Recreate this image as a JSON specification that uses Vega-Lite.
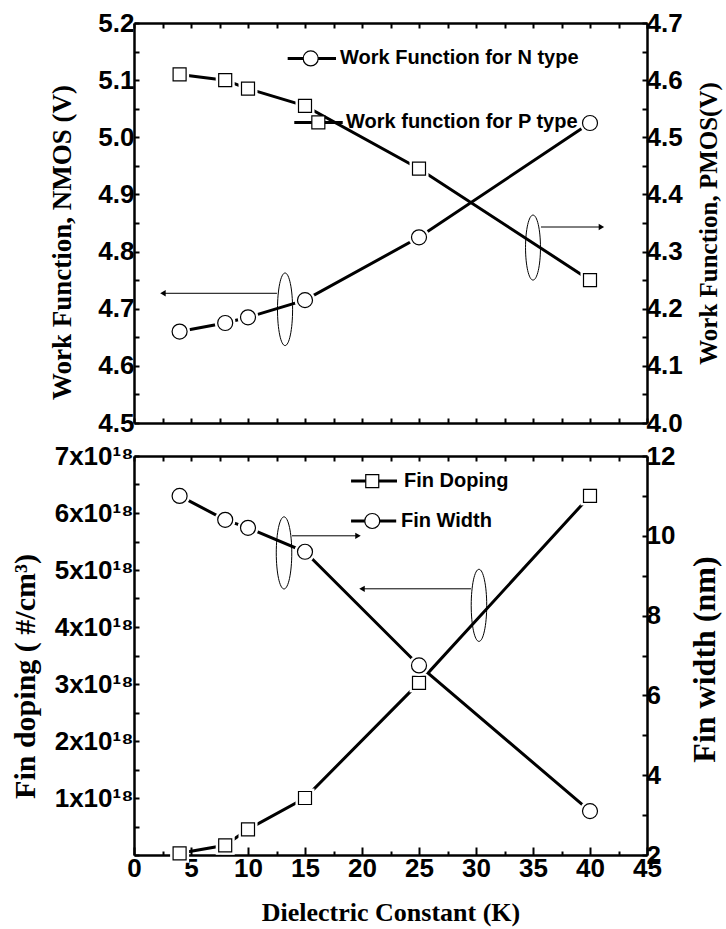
{
  "$schema": "https://vega.github.io/schema/vega-lite/v6.json",
  "padding": {"left": 10, "top": 10, "right": 2, "bottom": 2},
  "bounds": "flush",
  "spacing": 33,
  "config": {
    "view": {"stroke": null},
    "axis": {
      "domainColor": "black", "domainWidth": 2.5, "tickColor": "black", "tickWidth": 2, "tickSize": -5,
      "labelFont": "Liberation Sans", "labelFontWeight": "bold", "labelFontSize": 26, "labelColor": "black",
      "titleFont": "Liberation Serif", "titleFontWeight": "bold", "titleColor": "black",
      "grid": false, "zindex": 1, "labelFlush": false, "labelOverlap": false
    }
  },
  "datasets": {
    "nmos": [{"K":4,"v":4.66},{"K":8,"v":4.675},{"K":10,"v":4.685},{"K":15,"v":4.715},{"K":25,"v":4.825},{"K":40,"v":5.025}],
    "pmos": [{"K":4,"v":4.61},{"K":8,"v":4.6},{"K":10,"v":4.585},{"K":15,"v":4.555},{"K":25,"v":4.445},{"K":40,"v":4.25}],
    "doping": [{"K":4,"v":3e16},{"K":8,"v":1.7e17},{"K":10,"v":4.5e17},{"K":15,"v":1e18},{"K":25,"v":3.02e18},{"K":40,"v":6.3e18}],
    "width": [{"K":4,"v":11.0},{"K":8,"v":10.4},{"K":10,"v":10.2},{"K":15,"v":9.6},{"K":25,"v":6.75},{"K":40,"v":3.1}],
    "legTopN": [{"K":13.48,"K2":17.72,"Km":15.5,"Kt":18.07,"v":5.138,"label":"Work Function for N type"}],
    "legTopP": [{"K":14.06,"K2":18.31,"Km":16.17,"Kt":18.6,"v":4.526,"label":"Work function for P type"}],
    "ellTop1": [{"K":13.25,"v":4.699}],
    "ellTop2": [{"K":35.0,"v":4.807}],
    "arrTop": [{"K":12.54,"K2":2.54,"v":4.727,"dir":"left"},{"K":35.7,"K2":41.0,"v":4.843,"dir":"right"}],
    "legBotD": [{"K":19.04,"K2":23.07,"Km":20.9,"Kt":23.68,"v":6.56e18,"label":"Fin Doping"}],
    "legBotW": [{"K":19.04,"K2":23.0,"Km":20.9,"Kt":23.42,"v":5.86e18,"label":"Fin Width"}],
    "ellBot": [{"K":13.16,"v":5.3e18},{"K":30.26,"v":4.38e18}],
    "arrBot": [{"K":13.86,"K2":19.65,"v":5.6e18,"dir":"right"},{"K":29.56,"K2":20.0,"v":4.67e18,"dir":"left"}]
  },
  "vconcat": [
    {
      "width": 513, "height": 400,
      "resolve": {"scale": {"y": "independent"}, "axis": {"x": "independent", "y": "independent"}},
      "layer": [
        {
          "encoding": {
            "x": {"field": "K", "type": "quantitative", "scale": {"domain": [0, 45], "nice": false, "zero": false},
                  "axis": {"orient": "bottom", "values": [0,2.5,5,7.5,10,12.5,15,17.5,20,22.5,25,27.5,30,32.5,35,37.5,40,42.5,45], "labels": false, "title": null}},
            "y": {"field": "v", "type": "quantitative", "scale": {"domain": [4.5, 5.2], "nice": false, "zero": false},
                  "axis": {"orient": "left", "values": [4.5,4.55,4.6,4.65,4.7,4.75,4.8,4.85,4.9,4.95,5.0,5.05,5.1,5.15,5.2],
                           "labelExpr": "abs(datum.value*10 - round(datum.value*10)) < 0.001 ? format(datum.value, '.1f') : ''",
                           "title": "Work Function, NMOS (V)", "titleFontSize": 27, "titlePadding": 21, "titleY": 219, "labelPadding": 5}}
          },
          "layer": [
            {"data": {"name": "nmos"}, "mark": {"type": "line", "color": "black", "strokeWidth": 3}},
            {"data": {"name": "nmos"}, "mark": {"type": "point", "shape": "circle", "filled": true, "color": "white", "opacity": 1, "size": 441}},
            {"data": {"name": "nmos"}, "mark": {"type": "point", "shape": "circle", "fill": "white", "stroke": "black", "strokeWidth": 1.2, "opacity": 1, "fillOpacity": 1, "size": 225}},
            {"data": {"name": "legTopN"}, "mark": {"type": "rule", "color": "black", "strokeWidth": 3}, "encoding": {"x2": {"field": "K2"}}},
            {"data": {"name": "legTopN"}, "mark": {"type": "point", "shape": "circle", "fill": "white", "stroke": "black", "strokeWidth": 1.2, "opacity": 1, "fillOpacity": 1, "size": 225}, "encoding": {"x": {"field": "Km", "type": "quantitative"}}},
            {"data": {"name": "legTopN"}, "mark": {"type": "text", "align": "left", "baseline": "middle", "font": "Liberation Sans", "fontWeight": "bold", "fontSize": 20, "color": "black"}, "encoding": {"x": {"field": "Kt", "type": "quantitative"}, "text": {"field": "label"}}},
            {"data": {"name": "ellTop1"}, "mark": {"type": "point", "shape": "M0,-1C0.115,-1,0.208,-0.552,0.208,0C0.208,0.552,0.115,1,0,1C-0.115,1,-0.208,0.552,-0.208,0C-0.208,-0.552,-0.115,-1,0,-1Z", "size": 5270, "filled": false, "color": "black", "strokeWidth": 1, "opacity": 1}},
            {"data": {"name": "ellTop2"}, "mark": {"type": "point", "shape": "M0,-1C0.127,-1,0.23,-0.552,0.23,0C0.23,0.552,0.127,1,0,1C-0.127,1,-0.23,0.552,-0.23,0C-0.23,-0.552,-0.127,-1,0,-1Z", "size": 4225, "filled": false, "color": "black", "strokeWidth": 1, "opacity": 1}},
            {"data": {"name": "arrTop"}, "mark": {"type": "rule", "color": "black", "strokeWidth": 1}, "encoding": {"x2": {"field": "K2"}}},
            {"data": {"name": "arrTop"}, "mark": {"type": "point", "filled": true, "color": "black", "size": 40, "opacity": 1},
             "encoding": {"x": {"field": "K2", "type": "quantitative"}, "shape": {"field": "dir", "type": "nominal", "scale": {"domain": ["left", "right"], "range": ["triangle-left", "triangle-right"]}, "legend": null}}}
          ]
        },
        {
          "encoding": {
            "x": {"field": "K", "type": "quantitative", "scale": {"domain": [0, 45], "nice": false, "zero": false},
                  "axis": {"orient": "top", "values": [0,2.5,5,7.5,10,12.5,15,17.5,20,22.5,25,27.5,30,32.5,35,37.5,40,42.5,45], "labels": false, "title": null}},
            "y": {"field": "v", "type": "quantitative", "scale": {"domain": [4.0, 4.7], "nice": false, "zero": false},
                  "axis": {"orient": "right", "values": [4.0,4.05,4.1,4.15,4.2,4.25,4.3,4.35,4.4,4.45,4.5,4.55,4.6,4.65,4.7],
                           "labelExpr": "abs(datum.value*10 - round(datum.value*10)) < 0.001 ? format(datum.value, '.1f') : ''",
                           "title": "Work Function, PMOS(V)", "titleFontSize": 25, "titleAngle": 270, "titleBaseline": "top", "titlePadding": 14, "labelPadding": 4}}
          },
          "layer": [
            {"data": {"name": "pmos"}, "mark": {"type": "line", "color": "black", "strokeWidth": 3}},
            {"data": {"name": "pmos"}, "mark": {"type": "point", "shape": "square", "filled": true, "color": "white", "opacity": 1, "size": 361}},
            {"data": {"name": "pmos"}, "mark": {"type": "point", "shape": "square", "fill": "white", "stroke": "black", "strokeWidth": 1.2, "opacity": 1, "fillOpacity": 1, "size": 169}},
            {"data": {"name": "legTopP"}, "mark": {"type": "rule", "color": "black", "strokeWidth": 3}, "encoding": {"x2": {"field": "K2"}}},
            {"data": {"name": "legTopP"}, "mark": {"type": "point", "shape": "square", "fill": "white", "stroke": "black", "strokeWidth": 1.2, "opacity": 1, "fillOpacity": 1, "size": 169}, "encoding": {"x": {"field": "Km", "type": "quantitative"}}},
            {"data": {"name": "legTopP"}, "mark": {"type": "text", "align": "left", "baseline": "middle", "font": "Liberation Sans", "fontWeight": "bold", "fontSize": 20, "color": "black"}, "encoding": {"x": {"field": "Kt", "type": "quantitative"}, "text": {"field": "label"}}}
          ]
        }
      ]
    },
    {
      "width": 513, "height": 399,
      "resolve": {"scale": {"y": "independent"}, "axis": {"x": "independent", "y": "independent"}},
      "layer": [
        {
          "encoding": {
            "x": {"field": "K", "type": "quantitative", "scale": {"domain": [0, 45], "nice": false, "zero": false},
                  "axis": {"orient": "bottom", "values": [0,2.5,5,7.5,10,12.5,15,17.5,20,22.5,25,27.5,30,32.5,35,37.5,40,42.5,45],
                           "labelExpr": "datum.value % 5 === 0 ? format(datum.value, 'd') : ''", "labelPadding": 8,
                           "tickSize": {"condition": {"test": "datum.value % 5 === 0", "value": -8}, "value": -4},
                           "title": "Dielectric Constant (K)", "titleFontSize": 26, "titlePadding": 14}},
            "y": {"field": "v", "type": "quantitative", "scale": {"domain": [0, 7e18], "nice": false, "zero": false},
                  "axis": {"orient": "left", "values": [0,5e17,1e18,1.5e18,2e18,2.5e18,3e18,3.5e18,4e18,4.5e18,5e18,5.5e18,6e18,6.5e18,7e18],
                           "labelExpr": "datum.value >= 1e18 && abs(datum.value/1e18 - round(datum.value/1e18)) < 0.001 ? format(datum.value/1e18, 'd') + 'x10¹⁸' : ''",
                           "title": "Fin doping ( #/cm³)", "titleFontSize": 30, "titlePadding": 14, "titleY": 220, "labelPadding": 6}}
          },
          "layer": [
            {"data": {"name": "doping"}, "mark": {"type": "line", "color": "black", "strokeWidth": 3}},
            {"data": {"name": "doping"}, "mark": {"type": "point", "shape": "square", "filled": true, "color": "white", "opacity": 1, "size": 361}},
            {"data": {"name": "doping"}, "mark": {"type": "point", "shape": "square", "fill": "white", "stroke": "black", "strokeWidth": 1.2, "opacity": 1, "fillOpacity": 1, "size": 169}},
            {"data": {"name": "legBotD"}, "mark": {"type": "rule", "color": "black", "strokeWidth": 3}, "encoding": {"x2": {"field": "K2"}}},
            {"data": {"name": "legBotD"}, "mark": {"type": "point", "shape": "square", "fill": "white", "stroke": "black", "strokeWidth": 1.2, "opacity": 1, "fillOpacity": 1, "size": 169}, "encoding": {"x": {"field": "Km", "type": "quantitative"}}},
            {"data": {"name": "legBotD"}, "mark": {"type": "text", "align": "left", "baseline": "middle", "font": "Liberation Sans", "fontWeight": "bold", "fontSize": 20, "color": "black"}, "encoding": {"x": {"field": "Kt", "type": "quantitative"}, "text": {"field": "label"}}},
            {"data": {"name": "legBotW"}, "mark": {"type": "rule", "color": "black", "strokeWidth": 3}, "encoding": {"x2": {"field": "K2"}}},
            {"data": {"name": "legBotW"}, "mark": {"type": "point", "shape": "circle", "fill": "white", "stroke": "black", "strokeWidth": 1.2, "opacity": 1, "fillOpacity": 1, "size": 225}, "encoding": {"x": {"field": "Km", "type": "quantitative"}}},
            {"data": {"name": "legBotW"}, "mark": {"type": "text", "align": "left", "baseline": "middle", "font": "Liberation Sans", "fontWeight": "bold", "fontSize": 20, "color": "black"}, "encoding": {"x": {"field": "Kt", "type": "quantitative"}, "text": {"field": "label"}}},
            {"data": {"name": "ellBot"}, "mark": {"type": "point", "shape": "M0,-1C0.119,-1,0.215,-0.552,0.215,0C0.215,0.552,0.119,1,0,1C-0.119,1,-0.215,0.552,-0.215,0C-0.215,-0.552,-0.119,-1,0,-1Z", "size": 5200, "filled": false, "color": "black", "strokeWidth": 1, "opacity": 1}},
            {"data": {"name": "arrBot"}, "mark": {"type": "rule", "color": "black", "strokeWidth": 1}, "encoding": {"x2": {"field": "K2"}}},
            {"data": {"name": "arrBot"}, "mark": {"type": "point", "filled": true, "color": "black", "size": 40, "opacity": 1},
             "encoding": {"x": {"field": "K2", "type": "quantitative"}, "shape": {"field": "dir", "type": "nominal", "scale": {"domain": ["left", "right"], "range": ["triangle-left", "triangle-right"]}, "legend": null}}}
          ]
        },
        {
          "encoding": {
            "x": {"field": "K", "type": "quantitative", "scale": {"domain": [0, 45], "nice": false, "zero": false},
                  "axis": {"orient": "top", "values": [0,2.5,5,7.5,10,12.5,15,17.5,20,22.5,25,27.5,30,32.5,35,37.5,40,42.5,45], "labels": false, "title": null}},
            "y": {"field": "v", "type": "quantitative", "scale": {"domain": [2, 12], "nice": false, "zero": false},
                  "axis": {"orient": "right", "values": [2,3,4,5,6,7,8,9,10,11,12],
                           "labelExpr": "datum.value % 2 === 0 ? format(datum.value, 'd') : ''",
                           "title": "Fin width (nm)", "titleFontSize": 32, "titleAngle": 270, "titleBaseline": "top", "titlePadding": 15, "titleY": 203, "labelPadding": 4}}
          },
          "layer": [
            {"data": {"name": "width"}, "mark": {"type": "line", "color": "black", "strokeWidth": 3}},
            {"data": {"name": "width"}, "mark": {"type": "point", "shape": "circle", "filled": true, "color": "white", "opacity": 1, "size": 441}},
            {"data": {"name": "width"}, "mark": {"type": "point", "shape": "circle", "fill": "white", "stroke": "black", "strokeWidth": 1.2, "opacity": 1, "fillOpacity": 1, "size": 225}}
          ]
        }
      ]
    }
  ]
}
